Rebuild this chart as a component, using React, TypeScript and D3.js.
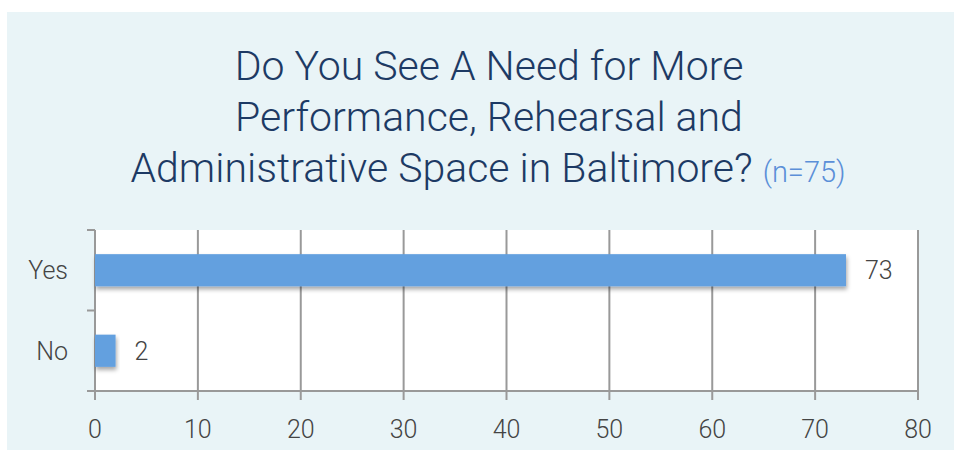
import React from 'react';
import * as d3 from 'd3';

const categories = ['Yes', 'No'];
const counts = [73, 2];
const xTicks = [0, 10, 20, 30, 40, 50, 60, 70, 80];
const titleLines = [
  'Do You See A Need for More',
  'Performance, Rehearsal and',
  'Administrative Space in Baltimore?',
];
const sampleNote = '(n=75)';

const W = 954;
const H = 450;
const font = 'Roboto, "Helvetica Neue", Arial, sans-serif';

const App = () => {
  const margin = { top: 230, right: 36, bottom: 59, left: 95 };
  const innerW = W - margin.left - margin.right;
  const innerH = H - margin.top - margin.bottom;

  const x = d3.scaleLinear().domain([0, 80]).range([0, innerW]);
  const y = d3.scaleBand().domain(categories).range([0, innerH]).paddingInner(0.6).paddingOuter(0.3);
  const band = d3.scaleBand().domain(categories).range([0, innerH]);

  const rows = categories.map((c, i) => ({ cat: c, value: counts[i] }));

  return (
    <svg width={W} height={H} style={{ position: 'absolute', left: 0, top: 0, background: '#fff' }}>
      <defs>
        <filter id="barShadow" x="-10%" y="-30%" width="130%" height="180%">
          <feDropShadow dx="1" dy="3" stdDeviation="2" floodColor="#000" floodOpacity="0.35" />
        </filter>
      </defs>
      <rect x={7} y={12} width={W - 7} height={H - 12} fill="#e9f4f7" />

      <g fontFamily={font} fontWeight={300} textAnchor="middle" fill="#1d3a64">
        {titleLines.map((t, i) => (
          <text key={i} x={i === 2 ? 488 : 489} y={80 + i * 51} fontSize={41}>
            {t}
            {i === 2 && (
              <tspan fill="#5b8fd8" fontSize={29} dx={10}>{sampleNote}</tspan>
            )}
          </text>
        ))}
      </g>

      <g transform={`translate(${margin.left},${margin.top})`}>
        <rect x={0} y={0} width={innerW} height={innerH} fill="#fff" />
        {xTicks.map(t => (
          <line key={t} x1={x(t)} x2={x(t)} y1={0} y2={innerH + 9} stroke="#999" strokeWidth={2} />
        ))}
        <line x1={-8} x2={innerW} y1={innerH} y2={innerH} stroke="#999" strokeWidth={2} />
        {[0, ...categories.map(c => (band(c) ?? 0) + band.bandwidth())].map((v, i) => (
          <line key={i} x1={-8} x2={0} y1={v} y2={v} stroke="#999" strokeWidth={2} />
        ))}
        {rows.map(d => (
          <g key={d.cat}>
            <rect
              x={x(0)}
              y={y(d.cat)}
              width={x(d.value) - x(0)}
              height={y.bandwidth()}
              fill="#64a0df"
              filter="url(#barShadow)"
            />
            <text
              x={x(d.value) + 19}
              y={(y(d.cat) ?? 0) + y.bandwidth() / 2}
              dy="0.36em"
              fontFamily={font}
              fontWeight={300}
              fontSize={25}
              fill="#444"
            >
              {d.value}
            </text>
            <text
              x={-27}
              y={(band(d.cat) ?? 0) + band.bandwidth() / 2}
              dy="0.36em"
              textAnchor="end"
              fontFamily={font}
              fontWeight={300}
              fontSize={25}
              fill="#444"
            >
              {d.cat}
            </text>
          </g>
        ))}
        {xTicks.map(t => (
          <text
            key={t}
            x={x(t)}
            y={innerH + 47}
            textAnchor="middle"
            fontFamily={font}
            fontWeight={300}
            fontSize={25}
            fill="#444"
          >
            {t}
          </text>
        ))}
      </g>
    </svg>
  );
};

export default App;
